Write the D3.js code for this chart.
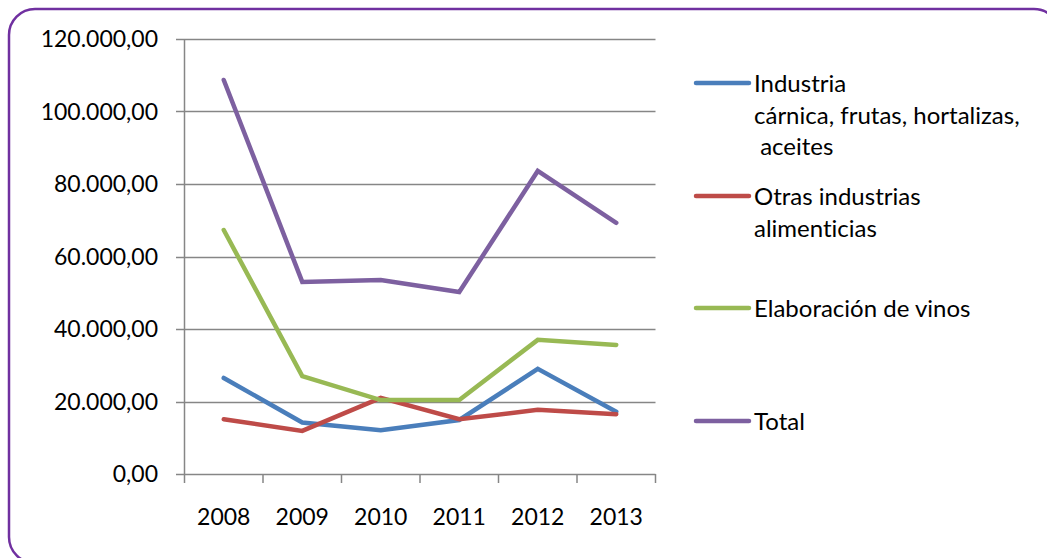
<!DOCTYPE html>
<html><head><meta charset="utf-8">
<script src="https://cdn.jsdelivr.net/npm/d3@7"></script>
<style>body{margin:0;background:#fff}svg{display:block}text{font-family:Lato,"Open Sans",sans-serif;fill:#000;font-variant-ligatures:none}</style>
</head><body>
<script>
const years = ["2008","2009","2010","2011","2012","2013"];
const seriesNames = ["Industria cárnica, frutas, hortalizas, aceites","Otras industrias alimenticias","Elaboración de vinos","Total"];
const legendLines = [["Industria","cárnica, frutas, hortalizas,"," aceites"],["Otras industrias","alimenticias"],["Elaboración de vinos"],["Total"]];
const carnica = [26500, 14200, 12100, 14900, 29000, 17200];
const otras = [15100, 11900, 21000, 15100, 17700, 16500];
const vinos = [67300, 27000, 20400, 20400, 37000, 35600];
const total = [108700, 53000, 53500, 50200, 83600, 69300];
const yTicks = [0, 20000, 40000, 60000, 80000, 100000, 120000];
const colors = ["#4A7EBB","#BE4B48","#98B954","#7D60A0"];

const W = 1047, H = 558;
const svg = d3.select("body").append("svg").attr("width", W).attr("height", H);
svg.append("rect").attr("x",9).attr("y",9).attr("width",1051).attr("height",554)
  .attr("rx",26).attr("fill","#fff").attr("stroke","#7030A0").attr("stroke-width",2.5);

const x = d3.scaleBand().domain(years).range([184.5, 655.5]).padding(0);
const y = d3.scaleLinear().domain([0,120000]).range([474, 39]);
const fmt = v => d3.format(",.2f")(v).replace(/,/g,"X").replace(/\./g,",").replace(/X/g,".");

// grid
svg.append("g").selectAll("line").data(yTicks).join("line")
  .attr("x1",176).attr("x2",655.5).attr("y1",d=>Math.round(y(d))+0.5).attr("y2",d=>Math.round(y(d))+0.5)
  .attr("stroke","#868686").attr("stroke-width",1.5);
// y axis line
svg.append("line").attr("x1",184.5).attr("x2",184.5).attr("y1",39).attr("y2",474.5).attr("stroke","#868686").attr("stroke-width",1.5);
// x ticks
const edges = years.map(d=>x(d)).concat([x.range()[1]]);
svg.append("g").selectAll("line").data(edges).join("line")
  .attr("x1",d=>d).attr("x2",d=>d).attr("y1",474).attr("y2",483)
  .attr("stroke","#868686").attr("stroke-width",1.5);
// y labels
svg.append("g").selectAll("text").data(yTicks).join("text")
  .attr("x",158).attr("y",d=>y(d)).attr("dy","0.36em").attr("text-anchor","end")
  .attr("font-size",23).text(fmt);
// x labels
svg.append("g").selectAll("text").data(years).join("text")
  .attr("x",d=>x(d)+x.bandwidth()/2).attr("y",517).attr("dy","0.36em").attr("text-anchor","middle")
  .attr("font-size",23).text(d=>d);

const data = [carnica, otras, vinos, total];
const line = d3.line().x((d,i)=>x(years[i])+x.bandwidth()/2).y(d=>y(d));
svg.append("g").selectAll("path").data(data).join("path")
  .attr("d",line).attr("fill","none").attr("stroke",(d,i)=>colors[i])
  .attr("stroke-width",4.5).attr("stroke-linecap","round").attr("stroke-linejoin","miter");

// legend
const legY = [83, 196, 308, 421];
const lg = svg.append("g").selectAll("g").data(seriesNames).join("g");
lg.append("line").attr("x1",696).attr("x2",749).attr("y1",(d,i)=>legY[i]).attr("y2",(d,i)=>legY[i])
  .attr("stroke",(d,i)=>colors[i]).attr("stroke-width",4.5).attr("stroke-linecap","round");
lg.each(function(d,i){
  const t = d3.select(this).append("text").attr("x",754).attr("y",legY[i]).attr("font-size",24);
  legendLines[i].forEach((s,j)=>t.append("tspan").attr("x",754).attr("dy", j===0? "0.36em" : "1.33em").style("white-space","pre").text(s));
});
</script>
</body></html>
